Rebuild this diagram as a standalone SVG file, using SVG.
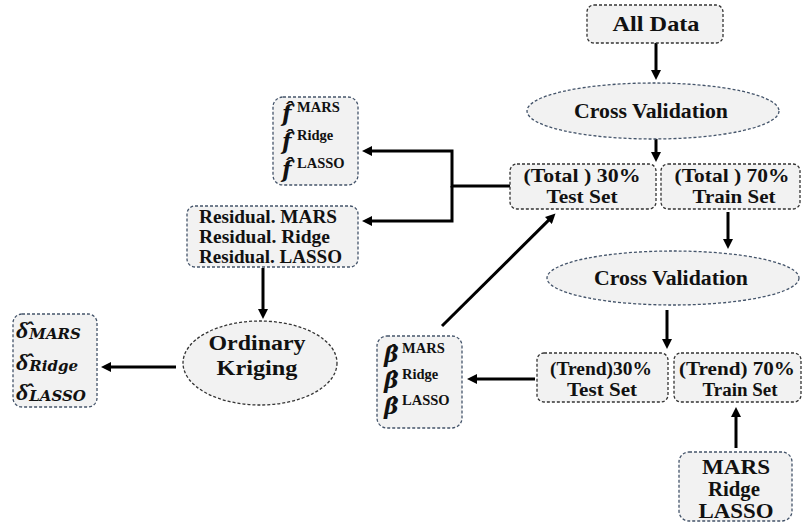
<svg xmlns="http://www.w3.org/2000/svg" width="804" height="523" viewBox="0 0 804 523">
<defs>
<marker id="ah" viewBox="0 0 10 10" refX="3" refY="5" markerWidth="11" markerHeight="10" markerUnits="userSpaceOnUse" orient="auto">
<path d="M0,0 L10,5 L0,10 z" fill="#000"/>
</marker>
<style>
.bk{fill:#f2f2f2;stroke:#333;stroke-width:1.3;stroke-dasharray:3 2}
.bl{fill:#f2f2f2;stroke:#44546a;stroke-width:1.3;stroke-dasharray:3 2}
.t{font-family:"Liberation Serif","Times New Roman",serif;font-weight:bold;fill:#111;text-anchor:middle}
.tl{font-family:"Liberation Serif","Times New Roman",serif;font-weight:bold;fill:#111}
.m{font-family:"DejaVu Serif",serif;font-weight:bold;font-style:italic;fill:#111}
.d{font-family:"Liberation Serif","Times New Roman",serif;font-weight:bold;font-style:italic;fill:#111}
.c{fill:none;stroke:#000;stroke-width:3}
</style>
</defs>
<g id="connectors">
<path class="c" d="M656,43 V73" marker-end="url(#ah)"/>
<path class="c" d="M656,139 V155" marker-end="url(#ah)"/>
<path class="c" d="M510,186 H452 V151 H369" marker-end="url(#ah)"/>
<path class="c" d="M452,186 V221 H369" marker-end="url(#ah)"/>
<path class="c" d="M263,268 V312" marker-end="url(#ah)"/>
<path class="c" d="M176,367 H108" marker-end="url(#ah)"/>
<path class="c" d="M442,326 L550.5,218.4" marker-end="url(#ah)"/>
<path class="c" d="M535,379 H474" marker-end="url(#ah)"/>
<path class="c" d="M728,212 V242" marker-end="url(#ah)"/>
<path class="c" d="M667,310 V342" marker-end="url(#ah)"/>
<path class="c" d="M736,448 V414" marker-end="url(#ah)"/>
</g>
<g id="alldata">
<rect class="bk" x="587" y="5" width="136" height="38" rx="7"/>
<text class="t" x="656" y="31" font-size="21" textLength="87" lengthAdjust="spacingAndGlyphs">All Data</text>
</g>
<g id="cv1">
<ellipse class="bl" cx="653" cy="111" rx="126" ry="28"/>
<text class="t" x="651" y="118" font-size="20.5" textLength="154" lengthAdjust="spacingAndGlyphs">Cross Validation</text>
</g>
<g id="totaltest">
<rect class="bk" x="510" y="164" width="146" height="45" rx="7"/>
<text class="t" x="582" y="182" font-size="19.5" textLength="117" lengthAdjust="spacingAndGlyphs">(Total ) 30%</text>
<text class="t" x="582" y="203" font-size="19.5" textLength="71" lengthAdjust="spacingAndGlyphs">Test Set</text>
</g>
<g id="totaltrain">
<rect class="bk" x="661" y="164" width="139" height="45" rx="7"/>
<text class="t" x="732" y="182" font-size="19.5" textLength="115" lengthAdjust="spacingAndGlyphs">(Total ) 70%</text>
<text class="t" x="734" y="203" font-size="19.5" textLength="83" lengthAdjust="spacingAndGlyphs">Train Set</text>
</g>
<g id="fhat">
<rect class="bl" x="273" y="97" width="85" height="88" rx="10"/>
<text x="282" y="121"><tspan class="m" font-size="22">f̂</tspan><tspan class="tl" font-size="14.5" x="297" dy="-9">MARS</tspan></text>
<text x="282" y="149"><tspan class="m" font-size="22">f̂</tspan><tspan class="tl" font-size="14.5" x="297" dy="-9">Ridge</tspan></text>
<text x="282" y="177"><tspan class="m" font-size="22">f̂</tspan><tspan class="tl" font-size="14.5" x="297" dy="-9">LASSO</tspan></text>
</g>
<g id="residual">
<rect class="bl" x="187" y="206" width="171" height="61" rx="8"/>
<text class="tl" x="199" y="223" font-size="18.5" textLength="138" lengthAdjust="spacingAndGlyphs">Residual. MARS</text>
<text class="tl" x="199" y="243" font-size="18.5" textLength="131" lengthAdjust="spacingAndGlyphs">Residual. Ridge</text>
<text class="tl" x="199" y="263" font-size="18.5" textLength="143" lengthAdjust="spacingAndGlyphs">Residual. LASSO</text>
</g>
<g id="kriging">
<ellipse class="bk" cx="260" cy="363" rx="77" ry="42"/>
<text class="t" x="257" y="350" font-size="20" textLength="97" lengthAdjust="spacingAndGlyphs">Ordinary</text>
<text class="t" x="257" y="375" font-size="20" textLength="81" lengthAdjust="spacingAndGlyphs">Kriging</text>
</g>
<g id="delta">
<rect class="bl" x="13" y="314" width="84" height="93" rx="9"/>
<text x="16" y="338"><tspan class="d" font-size="24">δ̂</tspan><tspan class="m" font-size="15" dx="1" dy="1">MARS</tspan></text>
<text x="16" y="370"><tspan class="d" font-size="24">δ̂</tspan><tspan class="m" font-size="15" dx="1" dy="1">Ridge</tspan></text>
<text x="16" y="400"><tspan class="d" font-size="24">δ̂</tspan><tspan class="m" font-size="15" dx="1" dy="1">LASSO</tspan></text>
</g>
<g id="beta">
<rect class="bl" x="377" y="336" width="85" height="92" rx="10"/>
<text x="384" y="362"><tspan class="m" font-size="22">β̂</tspan><tspan class="tl" font-size="14.5" x="402" dy="-9">MARS</tspan></text>
<text x="384" y="388"><tspan class="m" font-size="22">β̂</tspan><tspan class="tl" font-size="14.5" x="402" dy="-9">Ridge</tspan></text>
<text x="384" y="414"><tspan class="m" font-size="22">β̂</tspan><tspan class="tl" font-size="14.5" x="402" dy="-9">LASSO</tspan></text>
</g>
<g id="cv2">
<ellipse class="bl" cx="673" cy="278" rx="126" ry="27"/>
<text class="t" x="671" y="285" font-size="20.5" textLength="154" lengthAdjust="spacingAndGlyphs">Cross Validation</text>
</g>
<g id="trendtest">
<rect class="bk" x="537" y="353" width="131" height="49" rx="7"/>
<text class="t" x="601" y="375" font-size="18.5" textLength="102" lengthAdjust="spacingAndGlyphs">(Trend)30%</text>
<text class="t" x="602" y="396" font-size="18.5" textLength="70" lengthAdjust="spacingAndGlyphs">Test Set</text>
</g>
<g id="trendtrain">
<rect class="bk" x="674" y="353" width="127" height="49" rx="7"/>
<text class="t" x="737" y="375" font-size="18.5" textLength="116" lengthAdjust="spacingAndGlyphs">(Trend) 70%</text>
<text class="t" x="740" y="396" font-size="18.5" textLength="75" lengthAdjust="spacingAndGlyphs">Train Set</text>
</g>
<g id="methods">
<rect class="bl" x="679" y="452" width="113" height="69" rx="10"/>
<text class="t" x="736" y="474" font-size="20" textLength="68" lengthAdjust="spacingAndGlyphs">MARS</text>
<text class="t" x="734" y="496" font-size="20" textLength="52" lengthAdjust="spacingAndGlyphs">Ridge</text>
<text class="t" x="736" y="518" font-size="20" textLength="75" lengthAdjust="spacingAndGlyphs">LASSO</text>
</g>
</svg>
